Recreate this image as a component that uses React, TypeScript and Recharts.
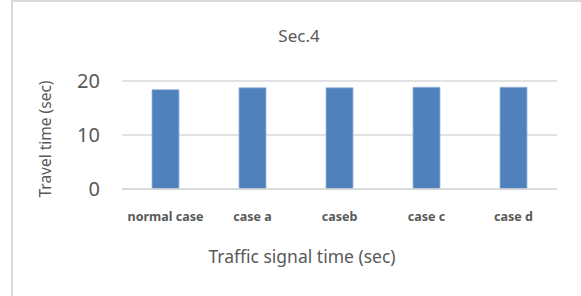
import { BarChart, Bar, XAxis, YAxis, CartesianGrid } from 'recharts';

// Sec.4 travel time per signal timing case
const categories = ['normal case', 'case a', 'caseb', 'case c', 'case d'];
const travelTime = [18.4, 18.75, 18.75, 18.85, 18.85];
const yTicks = [0, 10, 20];

const chartData = categories.map((name, i) => ({ name, value: travelTime[i] }));

const FONT = '"Noto Sans", "Open Sans", sans-serif';
const TEXT = '#595959';
const GRID = '#d9d9d9';

export default function App() {
  return (
    <div
      style={{
        position: 'absolute',
        left: 0,
        top: 0,
        width: 581,
        height: 296,
        background: '#fff',
        fontFamily: FONT,
        overflow: 'hidden',
      }}
    >
      {/* outer frame (left + top edges visible) */}
      <div
        style={{
          position: 'absolute',
          left: 11,
          top: 0,
          width: 580,
          height: 300,
          borderLeft: `2px solid ${GRID}`,
          borderTop: `2px solid ${GRID}`,
          boxSizing: 'border-box',
        }}
      />

      {/* Title */}
      <div
        style={{
          position: 'absolute',
          left: 199,
          width: 200,
          top: 23,
          textAlign: 'center',
          fontSize: 17,
          color: TEXT,
          lineHeight: '26px',
        }}
      >
        Sec.4
      </div>

      {/* Y axis title */}
      <div
        style={{
          position: 'absolute',
          left: 45,
          top: 139,
          transform: 'translate(-50%, -50%) rotate(-90deg)',
          whiteSpace: 'nowrap',
          fontSize: 15.5,
          color: TEXT,
          lineHeight: '20px',
        }}
      >
        Travel time (sec)
      </div>

      {/* X axis title */}
      <div
        style={{
          position: 'absolute',
          left: 152,
          width: 300,
          top: 243,
          textAlign: 'center',
          fontSize: 17.5,
          color: TEXT,
          lineHeight: '26px',
          whiteSpace: 'nowrap',
        }}
      >
        Traffic signal time (sec)
      </div>

      <div style={{ position: 'absolute', left: 0, top: 0 }}>
        <BarChart
          width={581}
          height={296}
          data={chartData}
          margin={{ top: 81, right: 24, bottom: 77, left: 60 }}
          barCategoryGap="34.5%"
        >
          <CartesianGrid vertical={false} stroke={GRID} strokeWidth={1.5} />
          <XAxis
            dataKey="name"
            height={30}
            axisLine={{ stroke: GRID, strokeWidth: 1.5 }}
            tickLine={false}
            tickMargin={17}
            tick={{ fontSize: 12.5, fontWeight: 700, fill: TEXT, fontFamily: FONT }}
            interval={0}
          />
          <YAxis
            width={62}
            domain={[0, 20]}
            ticks={yTicks}
            axisLine={false}
            tickLine={false}
            tickMargin={16}
            tick={{ fontSize: 20, fill: TEXT, fontFamily: FONT }}
          />
          <Bar
            dataKey="value"
            fill="#4f81bd"
            stroke="#9db8dc"
            strokeWidth={0.8}
            isAnimationActive={false}
          />
        </BarChart>
      </div>
    </div>
  );
}
